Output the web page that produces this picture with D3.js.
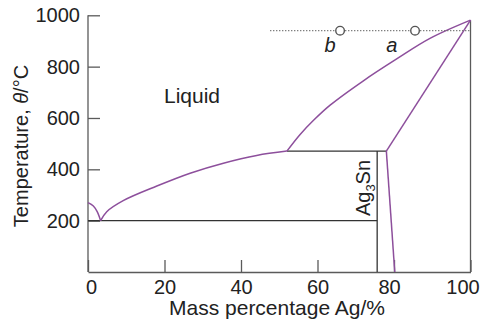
<!DOCTYPE html>
<html>
<head>
<meta charset="utf-8">
<script src="https://cdn.jsdelivr.net/npm/d3@7"></script>
<style>
  body { margin: 0; background: #fff; }
  svg { display: block; font-family: "Liberation Sans", Arial, sans-serif; }
</style>
</head>
<body>
<svg width="483" height="320"></svg>
<script>
// axis ticks
const xTicks = [0, 20, 40, 60, 80, 100]
const yTicks = [200, 400, 600, 800, 1000]

// phase boundaries, [mass % Ag, temperature °C]
const snLiquidus = [[0, 270], [1.4, 257], [2.4, 235], [3.3, 200]]
const lowLiquidus = [[3.3, 200], [4.9, 235], [9.2, 278], [18, 335], [26.7, 385], [35.4, 424], [44.1, 454], [52, 471]]
const highLiquidus = [[52, 471], [55.4, 535], [58.9, 590], [63.3, 650], [72, 745], [80.7, 830], [89.4, 910], [100, 981]]
const solidus = [[78, 471], [100, 981]]
const solvus = [[78, 471], [80.2, 0]]

// horizontal / vertical tie lines
const eutectic = [[0, 200], [75.6, 200]]
const peritectic = [[52, 471], [78, 471]]
const ag3sn = [[75.6, 0], [75.6, 471]]
const rightEdge = [[100, 0], [100, 981]]

// isotherm with the two points
const isotherm = [[47.6, 940], [100, 940]]
const points = [{ name: 'b', x: 65.9, t: 940, lx: 63.3 }, { name: 'a', x: 85.5, t: 940, lx: 79.4 }]

const svg = d3.select('svg')
const x = d3.scaleLinear().domain([0, 100]).range([88, 470.5])
const y = d3.scaleLinear().domain([0, 1000]).range([272, 15.3])

const purple = '#8d4f9c'
const axisColor = '#5a5a5a'

const line = d3.line().x((d) => x(d[0])).y((d) => y(d[1]))
const curve = d3.line().x((d) => x(d[0])).y((d) => y(d[1])).curve(d3.curveCatmullRom.alpha(0.5))

// axes
const xAxis = svg.append('g')
	.attr('transform', `translate(0,${y(0)})`)
	.call(d3.axisBottom(x).tickValues(xTicks).tickFormat(d3.format('d'))
		.tickSizeInner(-12).tickSizeOuter(0).tickPadding(8))
const yAxis = svg.append('g')
	.attr('transform', `translate(${x(0)},0)`)
	.call(d3.axisLeft(y).tickValues(yTicks).tickFormat(d3.format('d'))
		.tickSizeInner(-12).tickSizeOuter(0).tickPadding(8))

for (const ax of [xAxis, yAxis]) {
	ax.select('.domain').attr('stroke', axisColor).attr('stroke-width', 1.3)
	ax.selectAll('.tick line').attr('stroke', axisColor).attr('stroke-width', 1.3)
	ax.selectAll('.tick text').attr('fill', '#222').style('font-size', '20px')
		.style('font-family', '"Liberation Sans", Arial, sans-serif')
}
// nudge end labels like the original
xAxis.selectAll('.tick text').attr('dx', (d) => d === 0 ? 3 : d === 80 ? -5 : d === 100 ? -8 : 0)
yAxis.select('.domain').attr('d', `M0,${y(1000)}V${y(0)}`)

svg.append('path').attr('d', line(rightEdge))
	.attr('fill', 'none').attr('stroke', axisColor).attr('stroke-width', 1.3)

// black tie lines
svg.selectAll('.tie')
	.data([eutectic, peritectic, ag3sn])
	.enter()
	.append('path')
	.attr('d', (d) => line(d))
	.attr('fill', 'none')
	.attr('stroke', '#333')
	.attr('stroke-width', 1.3)

// purple boundaries
svg.selectAll('.curve')
	.data([snLiquidus, lowLiquidus, highLiquidus])
	.enter()
	.append('path')
	.attr('d', (d) => curve(d))
	.attr('fill', 'none')
	.attr('stroke', purple)
	.attr('stroke-width', 1.5)

svg.selectAll('.straight')
	.data([solidus, solvus])
	.enter()
	.append('path')
	.attr('d', (d) => line(d))
	.attr('fill', 'none')
	.attr('stroke', purple)
	.attr('stroke-width', 1.5)

// dotted isotherm
svg.append('path').attr('d', line(isotherm))
	.attr('fill', 'none').attr('stroke', '#777')
	.attr('stroke-width', 1.3).attr('stroke-dasharray', '1.3,1.7')

svg.selectAll('.pt')
	.data(points)
	.enter()
	.append('circle')
	.attr('cx', (d) => x(d.x))
	.attr('cy', (d) => y(d.t))
	.attr('r', 4.3)
	.attr('fill', '#fff')
	.attr('stroke', '#555')
	.attr('stroke-width', 1.4)

svg.selectAll('.ptlabel')
	.data(points)
	.enter()
	.append('text')
	.attr('x', (d) => x(d.lx))
	.attr('y', 51.5)
	.attr('text-anchor', 'middle')
	.style('font-size', '20px')
	.style('font-style', 'italic')
	.attr('fill', '#222')
	.text((d) => d.name)

// labels
svg.append('text')
	.attr('x', 192).attr('y', 103)
	.attr('text-anchor', 'middle')
	.style('font-size', '21px').attr('fill', '#222')
	.text('Liquid')

const agLabel = svg.append('text')
	.attr('transform', 'translate(370,188) rotate(-90)')
	.attr('text-anchor', 'middle')
	.style('font-size', '20px').attr('fill', '#222')
agLabel.append('tspan').text('Ag')
agLabel.append('tspan').attr('dy', 5).style('font-size', '13px').text('3')
agLabel.append('tspan').attr('dy', -5).text('Sn')

svg.append('text')
	.attr('x', 277).attr('y', 315)
	.attr('text-anchor', 'middle')
	.style('font-size', '21px').attr('fill', '#222')
	.text('Mass percentage Ag/%')

const yTitle = svg.append('text')
	.attr('transform', 'translate(28,146) rotate(-90)')
	.attr('text-anchor', 'middle')
	.style('font-size', '20px').attr('fill', '#222')
yTitle.append('tspan').text('Temperature, ')
yTitle.append('tspan').style('font-style', 'italic').text('θ')
yTitle.append('tspan').text('/°C')
</script>
</body>
</html>
